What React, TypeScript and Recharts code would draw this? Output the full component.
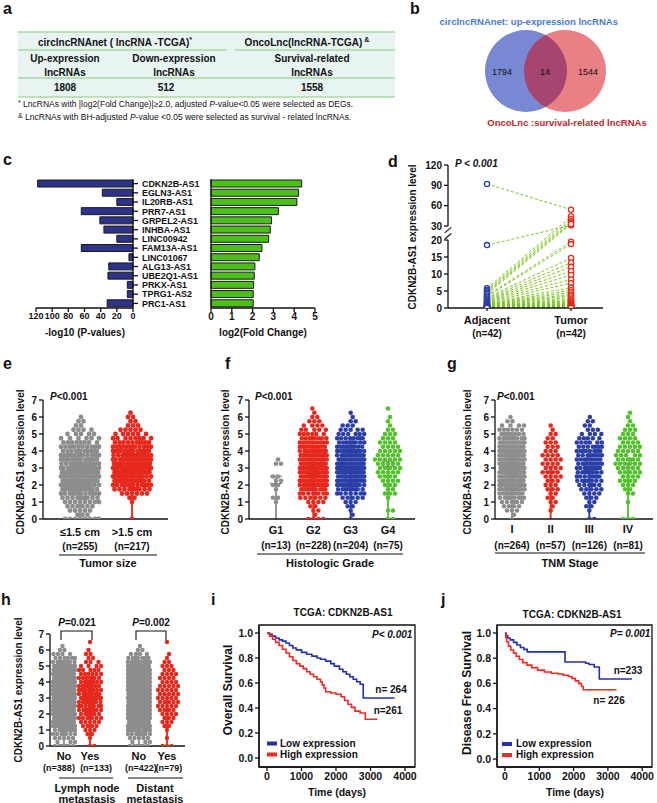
import React from "react";
import {
  BarChart,
  Bar,
  XAxis,
  YAxis,
  ComposedChart,
  Scatter,
  Line,
  LineChart,
  ReferenceLine,
  ReferenceArea,
  PieChart,
  Pie,
  Cell,
  ErrorBar,
} from "recharts";

const FONT = "'Liberation Sans', Arial, Helvetica, sans-serif";
const INK = "#111";
const GRAY = "#8d8d8d";
const RED = "#e6281d";
const BLUE = "#2b3fa6";
const GREEN = "#52c22c";
const KM_BLUE = "#2230b0";
const KM_RED = "#ee2a22";

// b: venn counts (up only, overlap, survival only)
const vennCounts = [1794, 14, 1544];

// c: the 14 overlapping lncRNAs
const genes = [
  "CDKN2B-AS1", "EGLN3-AS1", "IL20RB-AS1", "PRR7-AS1", "GRPEL2-AS1", "INHBA-AS1", "LINC00942",
  "FAM13A-AS1", "LINC01067", "ALG13-AS1", "UBE2Q1-AS1", "PRKX-AS1", "TPRG1-AS2", "PRC1-AS1",
];
const negLog10P = [118, 38, 20, 64, 41, 36, 20, 64, 5, 30, 31, 7, 7, 32];
const log2FC = [4.36, 4.21, 4.13, 3.24, 2.91, 2.85, 2.77, 2.45, 2.32, 2.11, 2.08, 2.05, 2.03, 2.03];

// d: paired samples (same index = same patient)
const dAdjacent = [
  92, 18.5, 5.8, 5.3, 4.9, 4.5, 4.1, 3.7, 3.4, 3.1, 2.8, 2.5, 2.3, 2.1, 1.9, 1.7, 1.5, 1.3, 1.2, 1.1, 1.0,
  0.9, 0.8, 0.7, 0.6, 0.55, 0.5, 0.45, 0.4, 0.35, 0.3, 0.28, 0.25, 0.22, 0.2, 0.18, 0.15, 0.12, 0.1, 0.08, 0.05, 0.03,
];
const dTumor = [
  54, 31, 44, 40, 37, 35, 33, 19.5, 18.8, 14.7, 13.3, 12.1, 10.9, 9.7, 8.4, 7.3, 6.0, 5.2, 4.6, 4.0, 3.6,
  3.1, 2.6, 2.2, 1.9, 1.7, 1.4, 1.1, 0.9, 0.8, 0.7, 0.6, 0.5, 0.4, 0.35, 0.3, 0.25, 0.2, 0.15, 0.1, 0.08, 0.05,
];
const dTicks = [0, 5, 10, 15, 20, 30, 60, 90, 120];

// e-h: number of dots per 0.25 step of expression, starting at 0
const BIN = 0.25;
const eBins = [
  [8, 3, 5, 6, 8, 10, 12, 14, 15, 16, 16, 16, 15, 14, 13, 12, 11, 10, 8, 6, 5, 4, 2, 2, 1],
  [1, 0, 0, 0, 1, 2, 6, 10, 12, 14, 15, 16, 16, 16, 15, 14, 13, 12, 10, 8, 6, 5, 3, 2, 2, 1],
];
const eMeans = [2.62, 2.95];
const eSems = [0.08, 0.08];
const eLabels = ["≤1.5 cm", ">1.5 cm"];
const eNs = ["(n=255)", "(n=217)"];

const fBins = [
  [0, 0, 0, 0, 1, 2, 0, 1, 2, 2, 2, 0, 0, 2, 1],
  [4, 1, 2, 2, 4, 6, 8, 10, 12, 14, 15, 16, 16, 15, 14, 13, 12, 11, 10, 8, 6, 5, 4, 3, 2, 1, 1],
  [1, 1, 1, 2, 3, 5, 7, 9, 11, 13, 14, 14, 14, 14, 13, 12, 11, 10, 9, 8, 6, 5, 3, 2, 1, 1],
  [2, 0, 2, 0, 0, 1, 3, 2, 3, 4, 4, 5, 5, 5, 6, 5, 5, 4, 4, 3, 3, 2, 1, 1, 1, 0, 1],
];
const fMeans = [2.3, 2.7, 2.95, 3.25];
const fSems = [0.22, 0.08, 0.09, 0.15];
const fLabels = ["G1", "G2", "G3", "G4"];
const fNs = ["(n=13)", "(n=228)", "(n=204)", "(n=75)"];

const gBins = [
  [1, 1, 3, 4, 6, 8, 10, 12, 14, 15, 16, 17, 17, 17, 16, 15, 14, 13, 12, 10, 8, 6, 4, 2, 1],
  [0, 0, 1, 1, 2, 2, 2, 3, 3, 3, 4, 4, 4, 4, 4, 4, 3, 3, 3, 2, 2, 1, 1],
  [2, 0, 1, 2, 2, 3, 4, 5, 6, 7, 8, 8, 9, 9, 9, 8, 8, 7, 6, 5, 4, 3, 2, 2, 1],
  [3, 0, 0, 0, 1, 0, 2, 2, 3, 4, 4, 5, 5, 6, 6, 5, 5, 5, 4, 4, 3, 3, 2, 1, 1, 1],
];
const gMeans = [2.7, 2.95, 2.95, 3.15];
const gSems = [0.07, 0.15, 0.1, 0.13];
const gLabels = ["I", "II", "III", "IV"];
const gNs = ["(n=264)", "(n=57)", "(n=126)", "(n=81)"];

const hBins = [
  [7, 3, 5, 7, 9, 12, 14, 16, 18, 20, 21, 22, 22, 22, 21, 20, 19, 18, 16, 14, 12, 9, 6, 4, 2, 1],
  [2, 0, 1, 2, 3, 4, 5, 6, 7, 8, 8, 9, 9, 9, 9, 8, 8, 7, 6, 5, 4, 3, 2, 2, 1, 0, 1],
  [7, 3, 5, 8, 10, 13, 15, 17, 19, 21, 22, 23, 23, 23, 22, 21, 20, 19, 17, 15, 12, 10, 7, 4, 2, 1],
  [3, 0, 1, 0, 1, 2, 3, 3, 4, 4, 5, 5, 5, 5, 5, 5, 4, 4, 4, 3, 3, 2, 1, 1, 0, 0, 1],
];
const hMeans = [2.75, 3.0, 2.75, 3.1];
const hSems = [0.06, 0.1, 0.06, 0.13];
const hLabels = ["No", "Yes", "No", "Yes"];
const hNs = ["(n=388)", "(n=133)", "(n=422)", "(n=79)"];

// i, j: Kaplan-Meier steps [days, survival]
const osLow = [
  [0, 1], [60, 0.99], [150, 0.975], [250, 0.96], [350, 0.945], [450, 0.935], [550, 0.92], [650, 0.9],
  [750, 0.88], [850, 0.865], [1000, 0.845], [1150, 0.83], [1300, 0.815], [1450, 0.8], [1550, 0.79],
  [1700, 0.775], [1850, 0.755], [1950, 0.735], [2100, 0.71], [2200, 0.69], [2300, 0.67], [2400, 0.65],
  [2500, 0.63], [2600, 0.61], [2700, 0.59], [2790, 0.48], [3700, 0.48],
];
const osHigh = [
  [0, 1], [80, 0.975], [160, 0.95], [250, 0.925], [350, 0.9], [450, 0.87], [550, 0.84], [650, 0.81],
  [750, 0.78], [850, 0.755], [950, 0.735], [1050, 0.715], [1150, 0.69], [1250, 0.67], [1350, 0.65],
  [1450, 0.63], [1550, 0.61], [1600, 0.585], [1650, 0.56], [1700, 0.53], [1850, 0.52], [2000, 0.51],
  [2150, 0.49], [2250, 0.46], [2350, 0.43], [2450, 0.405], [2550, 0.375], [2700, 0.36], [2850, 0.31], [3200, 0.31],
];
const dfsLow = [
  [0, 1], [30, 0.98], [80, 0.96], [150, 0.945], [250, 0.925], [350, 0.905], [450, 0.885], [550, 0.87],
  [650, 0.85], [1750, 0.77], [2350, 0.76], [2450, 0.75], [2600, 0.73], [2750, 0.635], [3700, 0.635],
];
const dfsHigh = [
  [0, 1], [20, 0.965], [50, 0.93], [100, 0.895], [170, 0.865], [250, 0.84], [330, 0.815], [420, 0.79],
  [520, 0.765], [640, 0.745], [780, 0.725], [950, 0.705], [1150, 0.69], [1350, 0.68], [1550, 0.675],
  [1700, 0.665], [1850, 0.655], [1950, 0.64], [2050, 0.62], [2150, 0.6], [2230, 0.575], [2280, 0.55], [3250, 0.55],
];

const tickStyle = { fontSize: 10, fontWeight: 700, fill: INK, fontFamily: FONT };

// broken y axis of panel d: 0-20 linear, then 30-120 compressed
const BREAK_LO = 20;
const BREAK_HI = 30;
const UP_START = 24.12;
const UP_K = 0.1993;
const D_MAX = 42.06;
const brk = (v: number) => (v <= BREAK_LO ? v : UP_START + (v - BREAK_HI) * UP_K);

// beeswarm layout: each dot goes to the free spot nearest the group centre
function beeswarm(bins: number[], pos: number, pxU: number, pxY: number, halfW: number, r: number) {
  const placed: { dx: number; py: number }[] = [];
  const out: { x: number; y: number }[] = [];
  const minD = 2 * r;
  const steps: number[] = [0];
  for (let s = 0.5; s <= halfW + 1e-9; s += 0.5) steps.push(s, -s);
  bins.forEach((c, i) => {
    const v = i * BIN;
    const py = v * pxY;
    for (let k = 0; k < c; k++) {
      let best = 0;
      let bestScore = -1;
      for (const dx of steps) {
        let m = Infinity;
        for (let j = placed.length - 1; j >= 0; j--) {
          const q = placed[j];
          const dy = py - q.py;
          if (dy >= minD) break;
          const d = Math.hypot(q.dx - dx, dy);
          if (d < m) m = d;
        }
        if (m >= minD) {
          best = dx;
          break;
        }
        if (m > bestScore) {
          bestScore = m;
          best = dx;
        }
      }
      placed.push({ dx: best, py });
      out.push({ x: pos + best / pxU, y: v });
    }
  });
  return out;
}

type SwarmProps = {
  x0: number; x1: number; y0: number; y1: number;
  dom: [number, number];
  pos: number[];
  means: number[];
  sems: number[];
  colors: string[];
  bins: number[][];
  labels: string[];
  ns: string[];
  barSize: number;
  halfW: number;
  r: number;
  row1: number;
  row2: number;
  nSize?: number;
  nShift?: number[];
};

function SwarmPanel(p: SwarmProps) {
  const yw = 24, xh = 46, mt = 6, mr = 4;
  const left = p.x0 - yw;
  const top = p.y0 - mt;
  const width = yw + (p.x1 - p.x0) + mr;
  const height = mt + (p.y1 - p.y0) + xh;
  const pxU = (p.x1 - p.x0) / (p.dom[1] - p.dom[0]);
  const pxY = (p.y1 - p.y0) / 7;
  const barData = p.pos.map((x, i) => ({ x, y: p.means[i], sem: p.sems[i] }));
  const catTick = (t: any) => {
    const i = p.pos.indexOf(t.payload.value);
    const sh = p.nShift ? p.nShift[i] : 0;
    return (
      <g>
        <text x={t.x} y={p.row1 - top} textAnchor="middle" fontSize={11} fontWeight={700} fill={INK} fontFamily={FONT}>
          {p.labels[i]}
        </text>
        <text x={t.x + sh} y={p.row2 - top} textAnchor="middle" fontSize={p.nSize || 10} fontWeight={700} fill={INK}
          fontFamily={FONT}>
          {p.ns[i]}
        </text>
      </g>
    );
  };
  return (
    <div style={{ position: "absolute", left, top }}>
      <ComposedChart width={width} height={height} data={barData} margin={{ top: mt, right: mr, left: 0, bottom: 0 }}>
        <XAxis type="number" dataKey="x" domain={p.dom} allowDataOverflow ticks={p.pos} interval={0} height={xh}
          tickLine={false} stroke={INK} strokeWidth={1.3} tick={catTick} />
        <YAxis type="number" dataKey="y" domain={[0, 7]} allowDataOverflow ticks={[0, 1, 2, 3, 4, 5, 6, 7]} interval={0}
          width={yw} tickSize={4} tickMargin={2} stroke={INK} strokeWidth={1.3} tick={tickStyle} />
        <Bar dataKey="y" barSize={p.barSize} isAnimationActive={false}>
          {p.colors.map((c, i) => (
            <Cell key={i} fill="#fff" stroke={c} strokeWidth={1.4} />
          ))}
          <ErrorBar dataKey="sem" width={6} stroke="#666" strokeWidth={1} direction="y" />
        </Bar>
        {p.bins.map((b, i) => (
          <Scatter key={i} data={beeswarm(b, p.pos[i], pxU, pxY, p.halfW, p.r)} isAnimationActive={false}
            shape={(s: any) => <circle cx={s.cx} cy={s.cy} r={p.r} fill={p.colors[i]} />} />
        ))}
      </ComposedChart>
    </div>
  );
}

function PairedPanel() {
  const x0 = 448, x1 = 603, y0 = 165, y1 = 308;
  const yw = 32, xh = 36, mt = 6, mr = 6;
  const left = x0 - yw;
  const top = y0 - mt;
  const dom: [number, number] = [0.536, 2.38];
  const xa = dom[0];
  const adj = dAdjacent.map((v) => ({ x: 1, y: brk(v) }));
  const tum = dTumor.map((v) => ({ x: 2, y: brk(v) }));
  const names = ["Adjacent", "Tumor"];
  const pairTick = (t: any) => (
    <g>
      <text x={t.x} y={324 - top} textAnchor="middle" fontSize={11} fontWeight={700} fill={INK} fontFamily={FONT}>
        {names[t.payload.value - 1]}
      </text>
      <text x={t.x} y={337 - top} textAnchor="middle" fontSize={10} fontWeight={700} fill={INK} fontFamily={FONT}>
        (n=42)
      </text>
    </g>
  );
  const openDot = (c: string) => (s: any) => (
    <circle cx={s.cx} cy={s.cy} r={2.6} fill="#fff" stroke={c} strokeWidth={1.3} />
  );
  return (
    <div style={{ position: "absolute", left, top }}>
      <ComposedChart width={yw + x1 - x0 + mr} height={mt + y1 - y0 + xh} margin={{ top: mt, right: mr, left: 0, bottom: 0 }}>
        <XAxis type="number" dataKey="x" domain={dom} allowDataOverflow ticks={[1, 2]} interval={0} height={xh}
          tickSize={3} stroke={INK} strokeWidth={1.3} tick={pairTick} />
        <YAxis type="number" dataKey="y" domain={[0, D_MAX]} allowDataOverflow ticks={dTicks.map(brk)} interval={0}
          width={yw} axisLine={false} tickSize={4} tickMargin={2} stroke={INK} strokeWidth={1.3} tick={tickStyle}
          tickFormatter={(v: number) => String(dTicks.find((t) => Math.abs(brk(t) - v) < 1e-6))} />
        <ReferenceLine segment={[{ x: xa, y: 0 }, { x: xa, y: BREAK_LO }]} stroke={INK} strokeWidth={1.3} ifOverflow="visible" />
        <ReferenceLine segment={[{ x: xa, y: UP_START }, { x: xa, y: D_MAX }]} stroke={INK} strokeWidth={1.3} ifOverflow="visible" />
        <ReferenceLine segment={[{ x: xa - 0.04, y: 20.3 }, { x: xa + 0.04, y: 21.9 }]} stroke={INK} strokeWidth={1.1} ifOverflow="visible" />
        <ReferenceLine segment={[{ x: xa - 0.04, y: 22.1 }, { x: xa + 0.04, y: 23.7 }]} stroke={INK} strokeWidth={1.1} ifOverflow="visible" />
        {dAdjacent.map((a, i) => (
          <Line key={i} data={[{ x: 1, y: brk(a) }, { x: 2, y: brk(dTumor[i]) }]} dataKey="y" type="linear"
            stroke="#7cc61f" strokeWidth={1} strokeDasharray="3 2" dot={false} isAnimationActive={false} />
        ))}
        <Scatter data={adj} shape={openDot(BLUE)} isAnimationActive={false} />
        <Scatter data={tum} shape={openDot(RED)} isAnimationActive={false} />
      </ComposedChart>
    </div>
  );
}

function KMPanel(p: {
  x0: number; x1: number; y0: number; y1: number;
  xDom: [number, number]; yDom: [number, number];
  low: number[][]; high: number[][];
}) {
  const yw = 30, xh = 22, mt = 4, mr = 4;
  const left = p.x0 - yw;
  const top = p.y0 - mt;
  return (
    <div style={{ position: "absolute", left, top }}>
      <LineChart width={yw + p.x1 - p.x0 + mr} height={mt + p.y1 - p.y0 + xh} margin={{ top: mt, right: mr, left: 0, bottom: 0 }}>
        <XAxis type="number" dataKey="x" domain={p.xDom} allowDataOverflow ticks={[0, 1000, 2000, 3000, 4000]} interval={0}
          height={xh} tickSize={4} tickMargin={2} stroke={INK} strokeWidth={1.3} tick={{ ...tickStyle, fontSize: 10.5 }} />
        <YAxis type="number" domain={p.yDom} allowDataOverflow ticks={[0, 0.2, 0.4, 0.6, 0.8, 1]} interval={0} width={yw}
          tickSize={4} tickMargin={2} stroke={INK} strokeWidth={1.3} tick={{ ...tickStyle, fontSize: 10.5 }}
          tickFormatter={(v: number) => v.toFixed(1)} />
        <ReferenceArea x1={p.xDom[0]} x2={p.xDom[1]} y1={p.yDom[0]} y2={p.yDom[1]} fill="none" stroke={INK}
          strokeWidth={1.3} ifOverflow="visible" />
        <Line data={p.low.map(([x, y]) => ({ x, y }))} dataKey="y" type="stepAfter" stroke={KM_BLUE} strokeWidth={1.6}
          dot={false} isAnimationActive={false} />
        <Line data={p.high.map(([x, y]) => ({ x, y }))} dataKey="y" type="stepAfter" stroke={KM_RED} strokeWidth={1.6}
          dot={false} isAnimationActive={false} />
      </LineChart>
    </div>
  );
}

function GenePanels() {
  const data = genes.map((name, i) => ({ name, p: negLog10P[i], fc: log2FC[i] }));
  const geneTick = (t: any) => (
    <text transform={`translate(${t.x},${t.y}) scale(0.97,1)`} dy="0.36em" textAnchor="start" fontSize={9.2}
      fontWeight={700} fill={INK} fontFamily={FONT}>
      {t.payload.value}
    </text>
  );
  const smallTick = { ...tickStyle, fontSize: 9 };
  return (
    <>
      <div style={{ position: "absolute", left: 18, top: 177 }}>
        <BarChart layout="vertical" width={195} height={151} data={data} margin={{ top: 2, right: 0, left: 18, bottom: 0 }}>
          <XAxis type="number" domain={[0, 120]} reversed ticks={[0, 20, 40, 60, 80, 100, 120]} interval={0} height={20}
            tickSize={4} tickMargin={1} stroke={INK} strokeWidth={1.3} tick={smallTick} />
          <YAxis type="category" dataKey="name" orientation="right" width={80} interval={0} tickSize={5} tickMargin={4}
            stroke={INK} strokeWidth={1.3} tick={geneTick} />
          <Bar dataKey="p" fill="#2d3387" stroke="#1a1a1a" strokeWidth={1} barSize={7} isAnimationActive={false} />
        </BarChart>
      </div>
      <div style={{ position: "absolute", left: 203, top: 177 }}>
        <BarChart layout="vertical" width={118} height={151} data={data} margin={{ top: 2, right: 6, left: 0, bottom: 0 }}>
          <XAxis type="number" domain={[0, 5]} ticks={[0, 1, 2, 3, 4, 5]} interval={0} height={20} tickSize={4}
            tickMargin={1} stroke={INK} strokeWidth={1.3} tick={tickStyle} />
          <YAxis type="category" dataKey="name" width={8} interval={0} tickSize={5} tick={false} stroke={INK} strokeWidth={1.3} />
          <Bar dataKey="fc" fill="#4cbf1a" stroke="#1a1a1a" strokeWidth={1} barSize={7} isAnimationActive={false} />
        </BarChart>
      </div>
    </>
  );
}

function Venn() {
  return (
    <div style={{ position: "absolute", left: 470, top: 25 }}>
      <PieChart width={150} height={95} margin={{ top: 0, right: 0, left: 0, bottom: 0 }}>
        <Pie data={[{ v: vennCounts[0] + vennCounts[1] }]} dataKey="v" cx={56} cy={46} outerRadius={41} startAngle={90}
          endAngle={-270} stroke="none" isAnimationActive={false}>
          <Cell fill="#7888d2" />
        </Pie>
        <Pie data={[{ v: vennCounts[2] + vennCounts[1] }]} dataKey="v" cx={95} cy={46} outerRadius={41} startAngle={90}
          endAngle={-270} stroke="none" isAnimationActive={false}>
          <Cell fill="#d1020e" fillOpacity={0.5} />
        </Pie>
      </PieChart>
    </div>
  );
}

type TP = {
  x: number; y: number; s?: number; w?: number; a?: "start" | "middle" | "end";
  c?: string; it?: boolean; rot?: boolean; children: React.ReactNode;
};
const T = ({ x, y, s = 10, w = 700, a = "middle", c = INK, it = false, rot = false, children }: TP) => (
  <text x={rot ? 0 : x} y={rot ? 0 : y} transform={rot ? `translate(${x},${y}) rotate(-90)` : undefined} fontSize={s}
    fontWeight={w} textAnchor={a} fill={c} fontStyle={it ? "italic" : "normal"} fontFamily={FONT}>
    {children}
  </text>
);
const Pv = ({ x, y, rest }: { x: number; y: number; rest: string }) => (
  <T x={x} y={y} a="start">
    <tspan fontStyle="italic">P</tspan>
    {rest}
  </T>
);

function Overlay() {
  const line = "#a9dba3";
  const ytitle = "CDKN2B-AS1 expression level";
  return (
    <svg width={657} height={803} style={{ position: "absolute", left: 0, top: 0, pointerEvents: "none" }}>
      {/* panel letters */}
      {[["a", 3, 14], ["b", 410, 14], ["c", 3, 165], ["d", 388, 167], ["e", 3, 369], ["f", 225, 369],
        ["g", 447, 369], ["h", 1, 605], ["i", 211, 605], ["j", 441, 605]].map(([l, x, y]) => (
        <T key={l as string} x={x as number} y={y as number} s={16} a="start">{l}</T>
      ))}

      {/* a: table */}
      <rect x={18} y={32} width={377} height={65} fill="#e7f4f2" />
      <line x1={18} x2={395} y1={32} y2={32} stroke={line} strokeWidth={1.5} />
      <line x1={18} x2={227} y1={50} y2={50} stroke={line} strokeWidth={1.5} />
      <line x1={235} x2={395} y1={50} y2={50} stroke={line} strokeWidth={1.5} />
      <line x1={18} x2={395} y1={78} y2={78} stroke={line} strokeWidth={1.5} />
      <line x1={18} x2={395} y1={97} y2={97} stroke={line} strokeWidth={1.5} />
      <T x={115} y={45.5}>
        circlncRNAnet ( lncRNA -TCGA)<tspan fontSize={7} dy={-4}>*</tspan>
      </T>
      <T x={307} y={45.5}>
        OncoLnc(lncRNA-TCGA)<tspan fontSize={7} dy={-4}> &amp;</tspan>
      </T>
      <T x={65} y={61.5}>Up-expression</T>
      <T x={65} y={75.5}>lncRNAs</T>
      <T x={174} y={61.5}>Down-expression</T>
      <T x={174} y={75.5}>lncRNAs</T>
      <T x={312} y={61.5}>Survival-related</T>
      <T x={312} y={75.5}>lncRNAs</T>
      <T x={65} y={90.5}>1808</T>
      <T x={166} y={90.5}>512</T>
      <T x={312} y={90.5}>1558</T>
      <T x={18} y={107} s={8.5} w={400} a="start">
        <tspan fontSize={7} dy={-2}>*</tspan>
        <tspan dy={2}> LncRNAs with |log2(Fold Change)|≥2.0, adjusted </tspan>
        <tspan fontStyle="italic">P</tspan>-value&lt;0.05 were selected as DEGs.
      </T>
      <T x={18} y={120} s={8.5} w={400} a="start">
        <tspan fontSize={7} dy={-2}>&amp;</tspan>
        <tspan dy={2}> LncRNAs with BH-adjusted </tspan>
        <tspan fontStyle="italic">P</tspan>-value &lt;0.05 were selected as survival - related lncRNAs.
      </T>

      {/* b: venn text */}
      <T x={618} y={24.5} s={9.5} a="end" c="#4a7bd4">circlncRNAnet: up-expression lncRNAs</T>
      <T x={502} y={75} s={9} w={400}>{vennCounts[0]}</T>
      <T x={545} y={75} s={9} w={400}>{vennCounts[1]}</T>
      <T x={588} y={75} s={9} w={400}>{vennCounts[2]}</T>
      <T x={567} y={125.5} s={9.5} c="#c0282d">OncoLnc :survival-related lncRNAs</T>

      {/* c */}
      <T x={85} y={336}>-log10 (P-values)</T>
      <T x={263} y={336}>log2(Fold Change)</T>

      {/* d */}
      <T x={415.5} y={237} rot>{ytitle}</T>
      <T x={455} y={166.5} a="start" it>P &lt; 0.001</T>

      {/* e */}
      <T x={23.5} y={462} rot>{ytitle}</T>
      <Pv x={50} y={400} rest="<0.001" />
      <line x1={59} x2={157} y1={555} y2={555} stroke={INK} strokeWidth={1.2} />
      <T x={108} y={567} s={11}>Tumor size</T>

      {/* f */}
      <T x={228.5} y={462} rot>{ytitle}</T>
      <Pv x={255} y={400} rest="<0.001" />
      <line x1={257} x2={403} y1={554} y2={554} stroke={INK} strokeWidth={1.2} />
      <T x={330} y={567} s={11}>Histologic Grade</T>

      {/* g */}
      <T x={470.5} y={462} rot>{ytitle}</T>
      <Pv x={497} y={400} rest="<0.001" />
      <line x1={495} x2={645} y1={553} y2={553} stroke={INK} strokeWidth={1.2} />
      <T x={570} y={567} s={11}>TNM Stage</T>

      {/* h */}
      <T x={21.5} y={690} rot>{ytitle}</T>
      <T x={77} y={625.5}><tspan fontStyle="italic">P</tspan>=0.021</T>
      <path d="M61 640 V631 H92 V640" fill="none" stroke={INK} strokeWidth={1.1} />
      <T x={151} y={625.5}><tspan fontStyle="italic">P</tspan>=0.002</T>
      <path d="M136 640 V631 H166 V640" fill="none" stroke={INK} strokeWidth={1.1} />
      <line x1={59} x2={113} y1={778} y2={778} stroke={INK} strokeWidth={1.2} />
      <line x1={128} x2={183} y1={778} y2={778} stroke={INK} strokeWidth={1.2} />
      <T x={87} y={791.5} s={11}>Lymph node</T>
      <T x={87} y={802.5} s={11}>metastasis</T>
      <T x={155} y={791.5} s={11}>Distant</T>
      <T x={155} y={802.5} s={11}>metastasis</T>

      {/* i */}
      <T x={343} y={615.5}>TCGA: CDKN2B-AS1</T>
      <T x={232} y={690} s={12} rot>Overall Survival</T>
      <T x={372} y={637.5} a="start" it>P&lt; 0.001</T>
      <T x={391} y={692.5}>n= 264</T>
      <T x={388} y={713.5}>n=261</T>
      <rect x={267} y={741.5} width={10} height={4} fill={KM_BLUE} />
      <T x={280} y={746.5} a="start">Low expression</T>
      <rect x={267} y={752.5} width={10} height={4} fill={KM_RED} />
      <T x={280} y={757.5} a="start">High expression</T>
      <T x={337} y={796} s={10.5}>Time (days)</T>

      {/* j */}
      <T x={572} y={617.5}>TCGA: CDKN2B-AS1</T>
      <T x={471} y={693} s={12} rot>Disease Free Survival</T>
      <T x={610} y={636.5} a="start" it>P= 0.001</T>
      <T x={628} y={673.5}>n=233</T>
      <T x={609} y={703.5}>n= 226</T>
      <rect x={502} y={742} width={10} height={4} fill={KM_BLUE} />
      <T x={516} y={747} a="start">Low expression</T>
      <rect x={502} y={753} width={10} height={4} fill={KM_RED} />
      <T x={516} y={758} a="start">High expression</T>
      <T x={575} y={796} s={10.5}>Time (days)</T>
    </svg>
  );
}

export default function App() {
  return (
    <div style={{ position: "absolute", left: 0, top: 0, width: 657, height: 803, background: "#fff", overflow: "hidden", fontFamily: FONT }}>
      <Venn />
      <GenePanels />
      <PairedPanel />
      <SwarmPanel x0={43} x1={168} y0={400} y1={519} dom={[0.2885, 2.6923]} pos={[1, 2]} means={eMeans} sems={eSems}
        colors={[GRAY, RED]} bins={eBins} labels={eLabels} ns={eNs} barSize={38} halfW={19} r={2.4} row1={535.5} row2={549.5} />
      <SwarmPanel x0={249} x1={415} y0={400} y1={519} dom={[0.2767, 4.7233]} pos={[1, 2, 3, 4]} means={fMeans} sems={fSems}
        colors={[GRAY, RED, BLUE, GREEN]} bins={fBins} labels={fLabels} ns={fNs} barSize={27} halfW={13.5} r={2.3}
        row1={534} row2={549} />
      <SwarmPanel x0={495} x1={653} y0={400} y1={519} dom={[0.5604, 4.6465]} pos={[1, 2, 3, 4]} means={gMeans} sems={gSems}
        colors={[GRAY, RED, BLUE, GREEN]} bins={gBins} labels={gLabels} ns={gNs} barSize={25} halfW={12.5} r={2.3}
        row1={533} row2={549} />
      <SwarmPanel x0={50} x1={185} y0={634} y1={746} dom={[0.4615, 5.652]} pos={[1, 2, 3.88, 4.96]} means={hMeans}
        sems={hSems} colors={[GRAY, RED, GRAY, RED]} bins={hBins} labels={hLabels} ns={hNs} barSize={22} halfW={11}
        r={2.2} row1={760} row2={771} nSize={9} nShift={[-5, 6, 2, 2]} />
      <KMPanel x0={259} x1={415} y0={625} y1={767} xDom={[-232, 4290]} yDom={[-0.072, 1.064]} low={osLow} high={osHigh} />
      <KMPanel x0={497} x1={652} y0={625} y1={767} xDom={[-233, 4286]} yDom={[-0.063, 1.063]} low={dfsLow} high={dfsHigh} />
      <Overlay />
    </div>
  );
}
